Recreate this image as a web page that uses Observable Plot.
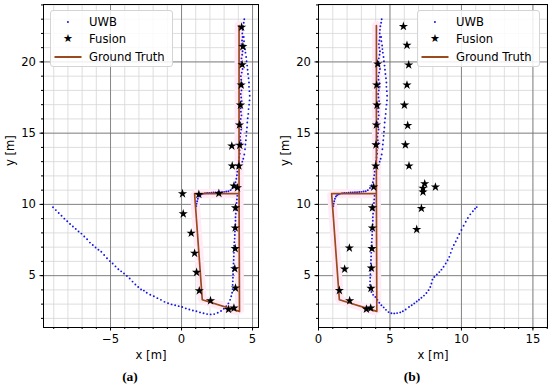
<!DOCTYPE html>
<html>
<head>
<meta charset="utf-8">
<script src="https://cdn.jsdelivr.net/npm/d3@7"></script>
<script src="https://cdn.jsdelivr.net/npm/@observablehq/plot@0.6"></script>
<style>
  html, body { margin: 0; padding: 0; background: #fff; }
  #wrap { position: relative; width: 550px; height: 389px; overflow: hidden; font-family: "DejaVu Sans", sans-serif; }
  .panel { position: absolute; top: 0; width: 275px; }
  .cap { position: absolute; top: 369px; font-family: "Liberation Serif", serif; font-weight: bold; font-size: 13.5px; transform: translateX(-50%); }
  .legend { position: absolute; top: 10px; width: 123px; height: 57px; box-sizing: border-box; border: 1px solid #d4d4d4; border-radius: 3px; background: rgba(255,255,255,0.85); font-size: 11.6px; }
  .legend .sym { position: absolute; transform: translate(-50%, -50%); }
  .legend .txt { position: absolute; left: 38px; line-height: 14px; white-space: nowrap; }
</style>
</head>
<body>
<div id="wrap">
  <div class="panel" id="pa" style="left:0px"></div>
  <div class="panel" id="pb" style="left:275px"></div>
  <div class="cap" style="left:130px">(a)</div>
  <div class="cap" style="left:412px">(b)</div>
</div>
<script>
// ---------- axes / ticks ----------
const yDomain = [1.36, 24.03];
const xDomainA = [-9.72, 5.42];
const xDomainB = [0, 16.02];
const yTicks = [5, 10, 15, 20];
const yMinorTicks = [2, 3, 4, 5, 6, 7, 8, 9, 10, 11, 12, 13, 14, 15, 16, 17, 18, 19, 20, 21, 22, 23, 24];
const xTicksA = [-5, 0, 5];
const xMinorTicksA = [-9, -8, -7, -6, -5, -4, -3, -2, -1, 0, 1, 2, 3, 4, 5];
const xTicksB = [0, 5, 10, 15];
const xMinorTicksB = [0, 1, 2, 3, 4, 5, 6, 7, 8, 9, 10, 11, 12, 13, 14, 15, 16];
const seriesNames = ["UWB", "Fusion", "Ground Truth"];
const panelLabels = ["(a)", "(b)"];

// ---------- ground truth ----------
const gtX = [4.05, 4.05, 0.92, 1.46, 4.08, 4.05];
const gtY = [22.55, 10.75, 10.75, 3.31, 2.49, 10.75];

// ---------- fusion estimates ----------
const fusionA = [
  [4.23,22.44],[4.32,21.08],[4.27,19.81],[4.2,18.38],[4.15,16.97],[4.08,15.58],
  [3.54,14.1],[4.1,14.15],[3.57,12.7],[4.04,12.7],[3.69,11.29],[3.94,11.17],
  [0.07,10.75],[1.22,10.7],[2.63,10.77],[0.12,9.34],[0.68,7.98],[0.92,6.57],
  [1.06,5.23],[1.25,3.94],[2.04,3.24],[3.31,2.63],[3.69,2.72],[3.8,4.13],
  [3.75,5.49],[3.78,6.9],[3.78,8.35],[3.8,9.76]
];
const fusionB = [
  [5.94,22.49],[6.19,21.17],[6.31,19.79],[6.19,18.38],[6.01,16.97],[6.24,15.54],
  [6.08,14.18],[6.33,12.7],[7.43,11.45],[7.31,11.13],[7.31,10.87],[8.18,11.22],
  [7.2,9.72],[6.87,8.24],
  [4.14,19.86],[4.07,18.38],[4.09,16.97],[4.05,15.58],[4.02,14.18],[4.0,12.7],[3.86,11.22],
  [3.77,9.76],[3.77,8.35],[3.74,6.9],[3.7,5.53],[3.67,4.11],[3.65,2.72],[3.35,2.65],
  [2.18,3.24],[1.46,3.96],[1.83,5.46],[2.16,6.94]
];

// ---------- UWB (shared part of both runs) ----------
const uwbShared = [
  // corridor, walking down
  [4.42,23.0],[4.38,22.75],[4.33,22.5],[4.3,22.25],[4.28,22.0],[4.3,21.75],[4.26,21.5],[4.22,21.25],
  [4.25,21.0],[4.3,20.75],[4.27,20.5],[4.22,20.25],[4.2,20.0],[4.25,19.75],[4.3,19.5],[4.24,19.25],
  [4.18,19.0],[4.2,18.75],[4.26,18.5],[4.28,18.25],[4.22,18.0],[4.17,17.75],[4.2,17.5],[4.24,17.25],
  [4.2,17.0],[4.16,16.75],[4.18,16.5],[4.22,16.25],[4.17,16.0],[4.12,15.75],[4.15,15.5],[4.2,15.25],
  [4.16,15.0],[4.12,14.75],[4.15,14.5],[4.2,14.3],[4.12,14.05],[4.08,13.8],[4.1,13.55],[4.06,13.3],
  [4.03,13.05],[4.0,12.8],[3.96,12.55],[3.93,12.3],[3.9,12.05],[3.86,11.8],[3.8,11.55],[3.72,11.35],
  [3.6,11.15],[3.45,11.0],
  // corridor, second branch
  [4.28,13.0],[4.35,13.2],[4.42,13.5],[4.47,13.87],[4.5,14.2],[4.53,14.5],[4.56,14.81],[4.58,15.1],
  [4.61,15.4],[4.63,15.75],[4.66,16.05],[4.7,16.35],[4.72,16.69],[4.76,17.0],[4.79,17.3],[4.8,17.63],
  [4.78,17.95],[4.75,18.25],[4.75,18.56],[4.72,18.85],[4.68,19.15],[4.65,19.45],[4.62,19.74],[4.58,20.05],
  [4.55,20.35],[4.5,20.65],[4.47,20.9],[4.45,21.15],[4.4,21.45],[4.38,21.75],
  // upper edge of room
  [3.3,10.92],[3.15,10.9],[3.0,10.88],[2.85,10.87],[2.7,10.86],[2.55,10.85],[2.4,10.84],[2.25,10.83],
  [2.1,10.82],[1.95,10.81],[1.8,10.8],[1.65,10.78],[1.5,10.74],[1.4,10.7],[1.3,10.64],[1.22,10.55],
  [1.15,10.4],[1.1,10.22],[1.06,10.05],[1.04,9.88],
  // right edge of room
  [3.92,10.6],[3.9,10.35],[3.88,10.1],[3.86,9.85],[3.84,9.6],[3.82,9.35],[3.8,9.1],[3.8,8.85],
  [3.79,8.6],[3.78,8.35],[3.76,8.1],[3.75,7.85],[3.74,7.6],[3.72,7.35],[3.7,7.1],[3.7,6.85],
  [3.69,6.6],[3.68,6.35],[3.67,6.1],[3.66,5.85],[3.65,5.6],[3.64,5.35],[3.63,5.1],[3.62,4.85],
  [3.61,4.6],[3.6,4.35]
];
// UWB exit path, run (a)
const uwbTailA = [
  [3.6,4.05],[3.56,3.8],[3.5,3.55],[3.42,3.3],[3.3,3.05],[3.15,2.85],[2.98,2.68],[2.78,2.52],
  [2.55,2.4],[2.3,2.3],[2.05,2.28],[1.8,2.3],[1.55,2.36],[1.3,2.42],[1.05,2.5],[0.8,2.55],
  [0.55,2.62],[0.3,2.7],[0.05,2.8],[-0.2,2.86],[-0.45,2.92],[-0.7,2.98],[-0.95,3.06],[-1.2,3.16],
  [-1.45,3.3],[-1.7,3.42],[-1.95,3.55],[-2.2,3.66],[-2.45,3.8],[-2.65,3.95],[-2.85,4.03],[-3.05,4.2],
  [-3.25,4.38],[-3.45,4.58],[-3.65,4.8],[-3.85,4.98],[-4.05,5.15],[-4.25,5.3],[-4.45,5.45],[-4.65,5.65],
  [-4.85,5.85],[-5.05,6.02],[-5.25,6.22],[-5.45,6.45],[-5.65,6.68],[-5.85,6.82],[-6.05,6.98],[-6.25,7.15],
  [-6.45,7.32],[-6.65,7.55],[-6.85,7.75],[-7.05,7.95],[-7.25,8.1],[-7.45,8.28],[-7.65,8.45],[-7.85,8.62],
  [-8.05,8.82],[-8.25,9.0],[-8.45,9.2],[-8.65,9.4],[-8.85,9.6],[-9.05,9.8]
];
// UWB exit path, run (b)
const uwbTailB = [
  [3.6,4.1],[3.7,3.85],[3.82,3.65],[3.98,3.5],[4.12,3.3],[4.25,3.1],[4.4,2.92],[4.56,2.77],
  [4.72,2.6],[4.9,2.44],[5.1,2.36],[5.3,2.35],[5.5,2.37],[5.72,2.42],[5.9,2.5],[6.1,2.62],
  [6.33,2.8],[6.52,2.92],[6.7,3.05],[6.87,3.18],[7.03,3.31],[7.2,3.45],[7.38,3.6],[7.55,3.78],
  [7.7,3.98],[7.82,4.2],[7.9,4.45],[7.97,4.72],[8.1,4.9],[8.28,5.08],[8.45,5.25],[8.6,5.42],
  [8.75,5.62],[8.9,5.85],[9.03,6.08],[9.15,6.32],[9.25,6.6],[9.35,6.88],[9.47,7.15],[9.6,7.4],
  [9.72,7.65],[9.85,7.92],[10.0,8.2],[10.15,8.5],[10.3,8.78],[10.45,9.05],[10.62,9.3],[10.8,9.52],
  [10.95,9.7],[11.07,9.81]
];

// ---------- drawing ----------
const gt = gtX.map((x, i) => ({x, y: gtY[i]}));
const toPts = arr => arr.map(([x, y]) => ({x, y}));

const COL = {
  uwb: "#1414e0",
  fusion: "#000000",
  gt: "#9a4a1e",
  band: "#ffeaf5",
  major: "#707070",
  minor: "#d6d6d6"
};

function panel(xDomain, xTicks, xMinor, uwb, fusion, marginRight) {
  return Plot.plot({
    width: 275,
    height: 366,
    marginLeft: 43,
    marginRight,
    marginTop: 4,
    marginBottom: 39,
    x: {domain: xDomain},
    y: {domain: yDomain},
    style: {fontFamily: "DejaVu Sans", fontSize: "11.6px", background: "transparent", overflow: "visible", color: "black"},
    marks: [
      Plot.gridX(xMinor, {stroke: COL.minor, strokeOpacity: 1, strokeWidth: 0.8}),
      Plot.gridY(yMinorTicks, {stroke: COL.minor, strokeOpacity: 1, strokeWidth: 0.8}),
      Plot.gridX(xTicks, {stroke: COL.major, strokeOpacity: 1, strokeWidth: 0.8}),
      Plot.gridY(yTicks, {stroke: COL.major, strokeOpacity: 1, strokeWidth: 0.8}),
      Plot.line(gt, {x: "x", y: "y", stroke: COL.band, strokeWidth: 9, strokeLinejoin: "miter"}),
      Plot.dot(toPts(uwb), {x: "x", y: "y", r: 0.95, fill: COL.uwb, stroke: null}),
      Plot.line(gt, {x: "x", y: "y", stroke: COL.gt, strokeWidth: 1.7}),
      Plot.dot(toPts(fusion), {x: "x", y: "y", symbol: "star", r: 2.9, fill: COL.fusion, stroke: null}),
      Plot.axisX(xMinor, {tickSize: 2, tickFormat: () => "", label: null}),
      Plot.axisY(yMinorTicks, {tickSize: 2, tickFormat: () => "", label: null}),
      Plot.axisX(xTicks, {tickSize: 3.5, tickPadding: 4, label: null}),
      Plot.axisY(yTicks, {tickSize: 3.5, tickPadding: 4, label: null}),
      Plot.frame({stroke: "black", strokeWidth: 1}),
      Plot.text(["x [m]"], {frameAnchor: "bottom", dy: 31, fontSize: 11.6}),
      Plot.text(["y [m]"], {frameAnchor: "left", dx: -33, rotate: -90, fontSize: 11.6})
    ]
  });
}

function legend(left) {
  const d = document.createElement("div");
  d.className = "legend";
  d.style.left = left + "px";
  d.innerHTML =
    `<span class="sym" style="left:17px;top:10.5px;width:2.2px;height:2.2px;border-radius:50%;background:${COL.uwb}"></span>` +
    `<span class="sym" style="left:17px;top:28px;font-size:11px;line-height:10px;color:${COL.fusion}">★</span>` +
    `<span class="sym" style="left:16.5px;top:45.8px;width:27px;height:2px;background:${COL.gt}"></span>` +
    `<span class="txt" style="top:3.5px">${seriesNames[0]}</span>` +
    `<span class="txt" style="top:21px">${seriesNames[1]}</span>` +
    `<span class="txt" style="top:38.8px">${seriesNames[2]}</span>`;
  document.getElementById("wrap").appendChild(d);
}

document.getElementById("pa").appendChild(
  panel(xDomainA, xTicksA, xMinorTicksA, uwbShared.concat(uwbTailA), fusionA, 17));
document.getElementById("pb").appendChild(
  panel(xDomainB, xTicksB, xMinorTicksB, uwbShared.concat(uwbTailB), fusionB, 3));
legend(50);
legend(417);
const caps = document.querySelectorAll(".cap");
caps[0].textContent = panelLabels[0];
caps[1].textContent = panelLabels[1];
</script>
</body>
</html>
